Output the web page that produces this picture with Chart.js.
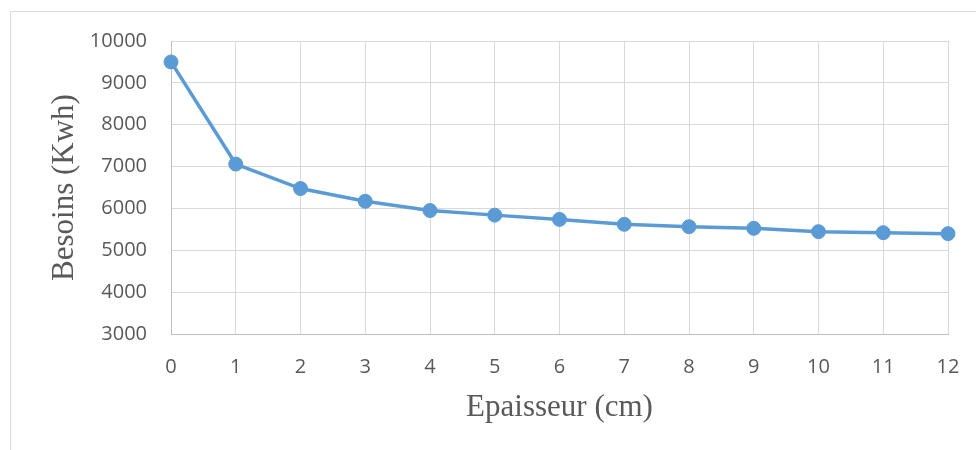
<!DOCTYPE html>
<html>
<head>
<meta charset="utf-8">
<script src="https://cdn.jsdelivr.net/npm/chart.js@4"></script>
<style>
  html, body { margin: 0; padding: 0; background: #fff; }
  #wrap { width: 976px; height: 450px; }
</style>
</head>
<body>
<div id="wrap"><canvas id="besoins-chart" width="976" height="450"></canvas></div>
<script>
// thickness in cm
const epaisseurs = ['0', '1', '2', '3', '4', '5', '6', '7', '8', '9', '10', '11', '12']
// heating needs in kWh
const besoins = [9500, 7060, 6475, 6170, 5950, 5840, 5738, 5620, 5563, 5524, 5445, 5420, 5397]
const yMin = 3000
const yMax = 10000
const yStep = 1000

const textColor = '#595959'
const gridColor = '#d9d9d9'
const lineColor = '#5b9bd5'

// light frame around the chart, like the Excel chart area border
const framePlugin = {
  id: 'frame',
  beforeDraw (chart) {
    const ctx = chart.ctx
    ctx.save()
    ctx.strokeStyle = gridColor
    ctx.lineWidth = 1
    ctx.beginPath()
    ctx.moveTo(10.5, chart.height)
    ctx.lineTo(10.5, 11.5)
    ctx.lineTo(chart.width, 11.5)
    ctx.stroke()
    ctx.restore()
  }
}

Chart.defaults.font.family = '"Open Sans", sans-serif'
Chart.defaults.font.size = 20
Chart.defaults.color = textColor

const ctx = document.getElementById('besoins-chart').getContext('2d')
new Chart(ctx, {
  type: 'line',
  data: {
    labels: epaisseurs,
    datasets: [
      {
        data: besoins,
        borderColor: lineColor,
        backgroundColor: lineColor,
        borderWidth: 3.5,
        pointRadius: 7,
        pointBorderWidth: 1,
        pointBackgroundColor: lineColor,
        tension: 0
      }
    ]
  },
  options: {
    responsive: false,
    animation: false,
    layout: { padding: { left: 0, right: 28, top: 41, bottom: 0 } },
    plugins: {
      legend: { display: false },
      tooltip: { enabled: false }
    },
    scales: {
      x: {
        type: 'category',
        offset: false,
        grid: { color: gridColor, lineWidth: 1, drawTicks: false },
        border: { color: '#bfbfbf', width: 1 },
        ticks: { padding: 21, maxRotation: 0, autoSkip: false, color: textColor },
        title: {
          display: true,
          text: 'Epaisseur (cm)',
          color: textColor,
          font: { family: '"Liberation Serif", "Times New Roman", serif', size: 31 },
          padding: { top: 0, bottom: 24 }
        },
        afterFit (scale) {
          scale.height = 116
          // the layout padding already leaves room for the end labels
          scale.paddingLeft = 0
          scale.paddingRight = 0
        }
      },
      y: {
        min: yMin,
        max: yMax,
        grid: { color: gridColor, lineWidth: 1, drawTicks: false },
        border: { color: '#bfbfbf', width: 1 },
        ticks: {
          stepSize: yStep,
          padding: 24,
          color: textColor,
          callback: (value) => String(value)
        },
        title: {
          display: true,
          text: 'Besoins (Kwh)',
          color: textColor,
          font: { family: '"Liberation Serif", "Times New Roman", serif', size: 31 },
          padding: { top: 46, bottom: 0 }
        },
        afterFit (scale) { scale.width = 171 }
      }
    }
  },
  plugins: [framePlugin]
})
</script>
</body>
</html>
